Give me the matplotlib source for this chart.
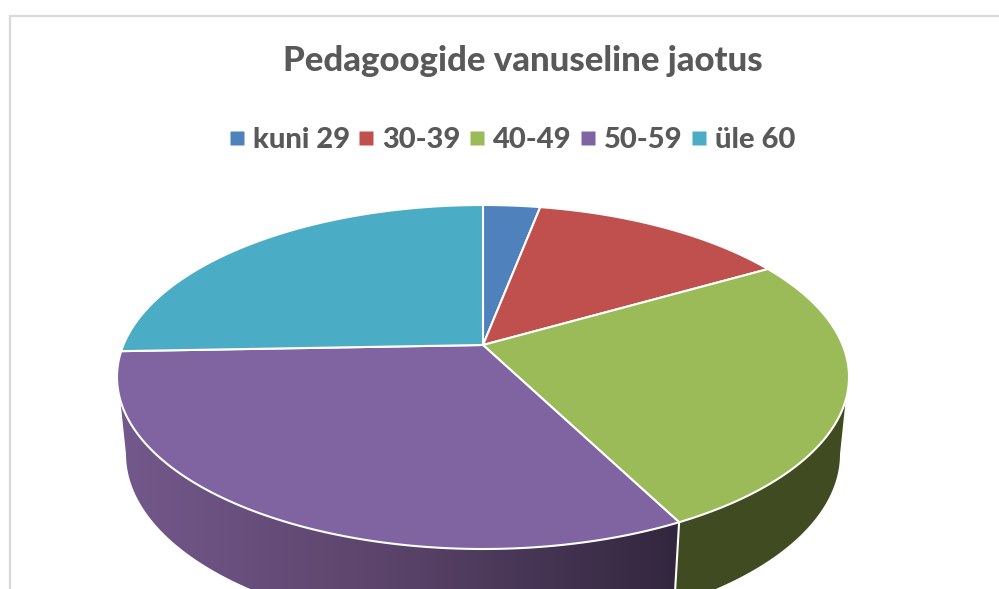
import numpy as np
import matplotlib
matplotlib.use("Agg")
import matplotlib.pyplot as plt
from matplotlib.colors import LinearSegmentedColormap
from matplotlib.lines import Line2D
from matplotlib.patches import Polygon

title = "Pedagoogide vanuseline jaotus"
categories = ["kuni 29", "30-39", "40-49", "50-59", "üle 60"]
shares = [2.5, 11.7, 26.8, 36.4, 22.6]
colors = ["#4F81BD", "#C0504D", "#9BBB59", "#8064A2", "#4BACC6"]

# everything is laid out in image pixels, y pointing down
fig = plt.figure(figsize=(9.99, 5.89), dpi=100)
ax = fig.add_axes([0, 0, 1, 1])
ax.set_xlim(0, 999)
ax.set_ylim(589, 0)
ax.axis("off")

# top face and lower edge of the disc (perspective: lower ellipse differs)
cx, apex_y = 483, 345
top_cy, top_a, top_b = 377, 366, 172
low_cy, low_a, low_b = 454, 357, 178
rim_right, rim_left = 97.7, 262.3


def top_rim(t):
    t = np.radians(t)
    return np.column_stack([cx + top_a * np.sin(t), top_cy - top_b * np.cos(t)])


def low_rim(t):
    t = np.radians(t)
    return np.column_stack([cx + low_a * np.sin(t), low_cy - low_b * np.cos(t)])


# chart frame, cut off by the image on the right and at the bottom
ax.plot([9.5, 9.5, 999], [589, 15.5, 15.5], color="#D9D9D9", lw=1.6, solid_joinstyle="miter")

edges = np.concatenate([[0], np.cumsum(shares)]) / np.sum(shares) * 360

# side wall, only the slices facing the viewer
side_cmap = LinearSegmentedColormap.from_list("side", ["#74598C", "#5A4369", "#32263E"])
for i in range(len(shares)):
    start, end = edges[i], edges[i + 1]
    if end < rim_right or start > rim_left:
        continue
    t1 = np.linspace(max(start, rim_right), min(end, rim_left), 120)
    t2 = np.linspace(max(start, 90), min(end, 270), 120)
    pts = np.vstack([top_rim(t1), low_rim(t2)[::-1]])
    if categories[i] == "50-59":
        wall = Polygon(pts, closed=True, facecolor="none", edgecolor="none", transform=ax.transData)
        ax.add_patch(wall)
        grad = np.linspace(0, 1, 256).reshape(1, -1)
        im = ax.imshow(grad, cmap=side_cmap, extent=[115, 680, 589, 390], aspect="auto", zorder=2)
        im.set_clip_path(wall)
    else:
        ax.add_patch(Polygon(pts, closed=True, facecolor="#404B22", edgecolor="none", zorder=2))

# white seam between the two visible wall pieces
seam = edges[3]
seam_pts = np.vstack([top_rim([seam]), low_rim([seam])])
ax.plot(seam_pts[:, 0], seam_pts[:, 1], color="white", lw=1.5, zorder=3)

# top face
for i in range(len(shares)):
    t = np.linspace(edges[i], edges[i + 1], 200)
    pts = np.vstack([[cx, apex_y], top_rim(t)])
    ax.add_patch(Polygon(pts, closed=True, facecolor=colors[i], edgecolor="white",
                         lw=1.5, joinstyle="round", zorder=4))

ax.set_xlim(0, 999)
ax.set_ylim(589, 0)

ax.text(523, 61, title, ha="center", va="center", fontsize=25, fontweight="black",
        family="Lato", color="#595959")

handles = [Line2D([], [], linestyle="none", marker="s", markersize=9.5, markerfacecolor=c,
                  markeredgecolor="none") for c in colors]
ax.legend(handles, categories, ncol=5, loc="center", bbox_to_anchor=(513, 140),
          bbox_transform=ax.transData, frameon=False, handlelength=0.4, handletextpad=0.35,
          columnspacing=0.36, labelcolor="#595959",
          prop={"family": "Lato", "weight": "black", "size": 21})

fig.savefig("out.png", dpi=100)
